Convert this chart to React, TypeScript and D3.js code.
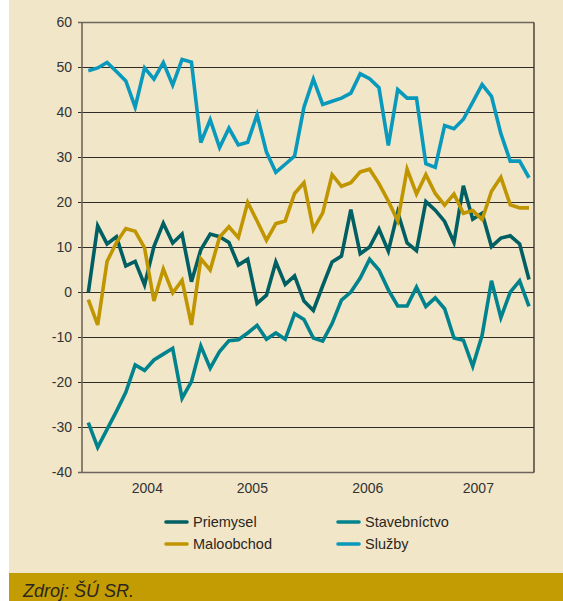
import { useEffect, useRef } from 'react'
import * as d3 from 'd3'

// monthly values, 48 months
const priemysel = [
  0.0, 14.8, 10.8, 12.4, 5.9, 6.9, 1.7, 10.2, 15.4, 11.0, 13.0, 2.4,
  9.5, 13.0, 12.4, 11.1, 6.1, 7.4, -2.4, -0.6, 6.8, 1.8, 3.7, -1.9,
  -4.0, 1.5, 6.8, 8.1, 18.4, 8.6, 10.1, 14.1, 9.2, 17.8, 11.0, 9.3,
  20.2, 18.3, 15.8, 11.1, 23.7, 16.3, 17.6, 10.2, 12.1, 12.6, 10.8, 2.9,
]
const maloobchod = [
  -1.6, -7.2, 6.9, 11.1, 14.2, 13.6, 9.9, -1.9, 5.2, -0.1, 2.7, -7.2,
  7.5, 5.0, 12.3, 14.6, 12.2, 20.0, 15.9, 11.6, 15.3, 15.9, 22.0, 24.4,
  14.0, 17.7, 26.2, 23.6, 24.4, 26.8, 27.4, 24.2, 20.3, 15.9, 27.4, 21.9,
  26.2, 22.0, 19.4, 21.9, 17.6, 18.2, 16.2, 22.5, 25.6, 19.5, 18.8, 18.8,
]
const stavebnictvo = [
  -28.9, -34.4, -30.4, -26.4, -22.2, -16.1, -17.3, -15.0, -13.7, -12.4, -23.5, -19.8,
  -11.9, -16.8, -13.1, -10.7, -10.5, -9.0, -7.3, -10.4, -9.0, -10.4, -4.7, -6.0,
  -10.1, -10.8, -6.9, -1.7, 0.1, 3.2, 7.4, 5.0, 0.6, -3.0, -3.0, 1.2,
  -3.1, -1.2, -3.6, -10.1, -10.6, -16.4, -9.5, 2.6, -5.6, 0.1, 2.6, -3.1,
]
const sluzby = [
  49.3, 49.9, 51.1, 49.1, 47.0, 41.2, 49.9, 47.4, 51.1, 46.1, 51.8, 51.2,
  33.3, 38.4, 32.2, 36.5, 32.8, 33.4, 39.5, 31.2, 26.7, 28.5, 30.3, 41.2,
  47.4, 41.8, 42.5, 43.2, 44.3, 48.6, 47.5, 45.5, 32.7, 45.1, 43.2, 43.2,
  28.6, 27.8, 37.1, 36.4, 38.5, 42.3, 46.2, 43.6, 35.3, 29.2, 29.2, 25.5,
]

const yTicks = [60, 50, 40, 30, 20, 10, 0, -10, -20, -30, -40]
const yearLabels = ['2004', '2005', '2006', '2007']
const yearPos = [6.3, 17.5, 29.8, 41.6] // month index under each label

const series = [
  { name: 'Priemysel', values: priemysel, color: '#005f63' },
  { name: 'Stavebníctvo', values: stavebnictvo, color: '#00838d' },
  { name: 'Maloobchod', values: maloobchod, color: '#c09600' },
  { name: 'Služby', values: sluzby, color: '#0899bc' },
]
const drawOrder = ['Stavebníctvo', 'Priemysel', 'Maloobchod', 'Služby']

const W = 563, H = 601
const FONT = '"Liberation Sans", Arial, sans-serif'

export default function App() {
  const svgRef = useRef<SVGSVGElement>(null)

  useEffect(() => {
    const svg = d3.select(svgRef.current)
    svg.selectAll('*').remove()

    const x = d3.scaleLinear([0, 47], [88.3, 529])
    const y = d3.scaleLinear([-40, 60], [472.5, 22.5])
    const left = 82, right = 534

    // panel + footer
    svg.append('rect').attr('x', 0).attr('y', 0).attr('width', W).attr('height', H).attr('fill', '#fff')
    svg.append('rect').attr('x', 9).attr('y', 0).attr('width', W - 9).attr('height', 573).attr('fill', '#f2e6c9')
    svg.append('rect').attr('x', 9).attr('y', 573).attr('width', W - 9).attr('height', H - 573).attr('fill', '#c29c02')
    svg.append('text').attr('x', 23).attr('y', 597)
      .attr('font-family', FONT).attr('font-size', 18).attr('font-style', 'italic')
      .attr('fill', '#2b2620').text('Zdroj: ŠÚ SR.')

    // grid
    yTicks.forEach((t) => {
      svg.append('line')
        .attr('x1', left - 4).attr('x2', right)
        .attr('y1', y(t)).attr('y2', y(t))
        .attr('stroke', t === -40 || t === 60 ? '#6e665c' : '#2f2b27')
        .attr('stroke-width', t === -40 || t === 60 ? 1.6 : 1.2)
      svg.append('text')
        .attr('x', 72).attr('y', y(t)).attr('dy', '0.35em')
        .attr('text-anchor', 'end')
        .attr('font-family', FONT).attr('font-size', 14).attr('fill', '#333')
        .text(t)
    })
    svg.append('line').attr('x1', left).attr('x2', left).attr('y1', y(60)).attr('y2', y(-40))
      .attr('stroke', '#6e665c').attr('stroke-width', 1.6)
    svg.append('line').attr('x1', right).attr('x2', right).attr('y1', y(60)).attr('y2', y(-40))
      .attr('stroke', '#2f2b27').attr('stroke-width', 1.3)

    yearLabels.forEach((lbl, i) => {
      svg.append('text')
        .attr('x', x(yearPos[i])).attr('y', 493)
        .attr('text-anchor', 'middle')
        .attr('font-family', FONT).attr('font-size', 14).attr('fill', '#333')
        .text(lbl)
    })

    // lines
    const line = d3.line<number>().x((_, i) => x(i)).y((d) => y(d)).curve(d3.curveLinear)
    drawOrder.forEach((name) => {
      const s = series.find((d) => d.name === name)!
      svg.append('path')
        .datum(s.values)
        .attr('d', line)
        .attr('fill', 'none')
        .attr('stroke', s.color)
        .attr('stroke-width', 3.6)
        .attr('stroke-linejoin', 'miter')
    })

    // legend
    const legendX = [166, 338]
    const legendY = [522, 544]
    const legendOrder = ['Priemysel', 'Stavebníctvo', 'Maloobchod', 'Služby']
    legendOrder.forEach((name, i) => {
      const s = series.find((d) => d.name === name)!
      const lx = legendX[i % 2], ly = legendY[Math.floor(i / 2)]
      svg.append('line')
        .attr('x1', lx).attr('x2', lx + 21).attr('y1', ly).attr('y2', ly)
        .attr('stroke', s.color).attr('stroke-width', 3.6).attr('stroke-linecap', 'round')
      svg.append('text')
        .attr('x', lx + 27).attr('y', ly).attr('dy', '0.36em')
        .attr('font-family', FONT).attr('font-size', 14.5).attr('fill', '#2b2620')
        .text(name)
    })
  }, [])

  return (
    <svg
      ref={svgRef}
      width={W}
      height={H}
      viewBox={`0 0 ${W} ${H}`}
      style={{ position: 'absolute', left: 0, top: 0, display: 'block' }}
    />
  )
}
